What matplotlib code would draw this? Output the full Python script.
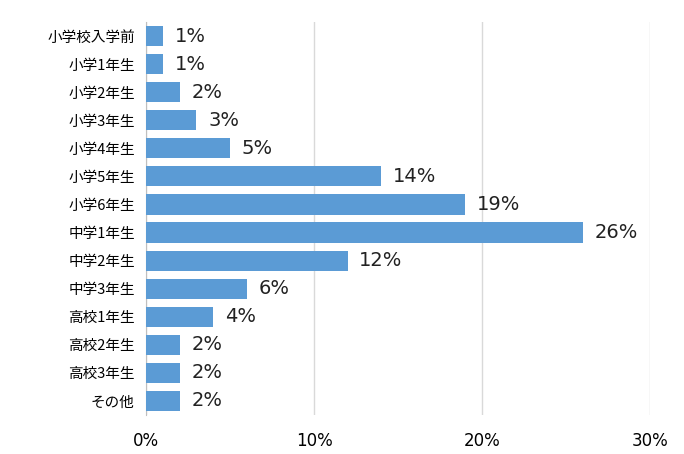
import matplotlib
matplotlib.use("Agg")
import matplotlib.pyplot as plt

categories = ["小学校入学前","小学1年生","小学2年生","小学3年生","小学4年生","小学5年生","小学6年生",
              "中学1年生","中学2年生","中学3年生","高校1年生","高校2年生","高校3年生","その他"]
values = [1,1,2,3,5,14,19,26,12,6,4,2,2,2]
xticks = [0,10,20,30]

plt.rcParams["font.family"] = ["Noto Sans CJK JP"]
fig = plt.figure(figsize=(6.84,4.54), dpi=100)
ax = fig.add_axes([146/684, 1-415/454, (650-146)/684, (415-22)/454])
y = list(range(len(categories)))
ax.barh(y, values, height=0.72, color="#5B9BD5", zorder=3)
for yi, v in zip(y, values):
    ax.text(v+0.7, yi, f"{v}%", va="center", ha="left", fontsize=14, color="#222222", family="DejaVu Sans")
ax.set_yticks(y)
ax.set_yticklabels(categories, fontsize=10.5)
ax.set_ylim(len(categories)-0.5, -0.5)
ax.set_xlim(0,30)
ax.set_xticks(xticks)
ax.set_xticklabels([f"{t}%" for t in xticks], fontsize=12, family="DejaVu Sans")
ax.grid(axis="x", color="#D9D9D9", linewidth=1, zorder=0)
for s in ["top","right","bottom"]:
    ax.spines[s].set_visible(False)
ax.spines["left"].set_color("#BFBFBF")
ax.tick_params(length=0, pad=8)
ax.tick_params(axis="x", pad=12)
fig.savefig("out.png", dpi=100)
